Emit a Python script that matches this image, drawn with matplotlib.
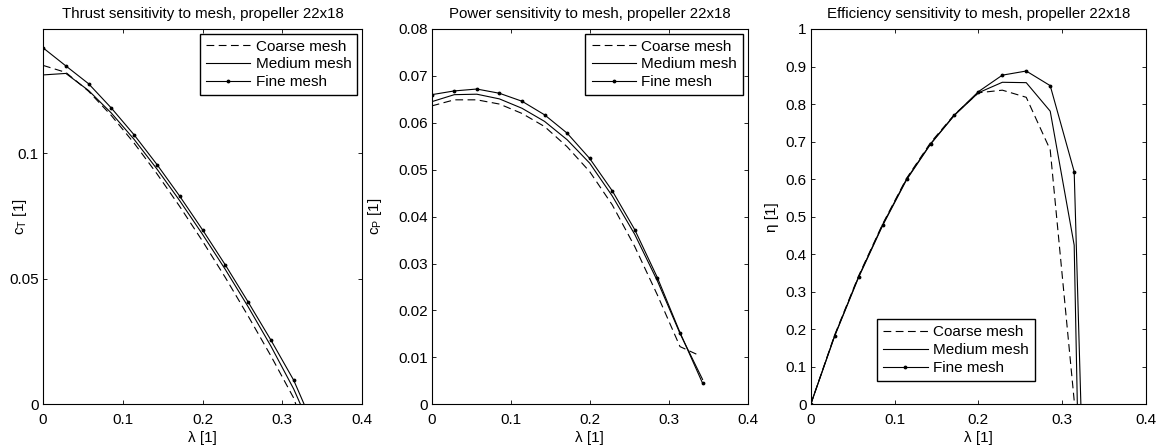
"""Mesh sensitivity of thrust, power and efficiency, propeller 22x18."""

import matplotlib

matplotlib.use("Agg")
import matplotlib.pyplot as plt
from matplotlib.ticker import FormatStrFormatter

plt.rcParams["font.family"] = ["Liberation Sans", "DejaVu Sans"]
plt.rcParams["mathtext.default"] = "regular"

# advance ratio grid (fine / medium share it, coarse ends a bit earlier)
lam = [0.0, 0.0286, 0.0571, 0.0857, 0.1143, 0.1429, 0.1714,
       0.2, 0.2286, 0.2571, 0.2857, 0.3143, 0.3429]
lam_coarse = [0.0, 0.0286, 0.0571, 0.0857, 0.1143, 0.1429, 0.1714,
              0.2, 0.2286, 0.2571, 0.2857, 0.3143, 0.335]

# thrust coefficient
ct_coarse = [0.1350, 0.1322, 0.1247, 0.1150, 0.1040, 0.0918, 0.0788,
             0.0650, 0.0505, 0.0352, 0.0193, 0.0025, -0.0170]
ct_medium = [0.1312, 0.1318, 0.1250, 0.1160, 0.1055, 0.0937, 0.0811,
             0.0677, 0.0537, 0.0389, 0.0232, 0.0061, -0.0145]
ct_fine = [0.1420, 0.1348, 0.1277, 0.1180, 0.1073, 0.0955, 0.0829,
           0.0695, 0.0555, 0.0408, 0.0256, 0.0096, -0.0113]

# power coefficient
cp_coarse = [0.0636, 0.0649, 0.0649, 0.0640, 0.0620, 0.0592, 0.0549,
             0.0496, 0.0425, 0.0336, 0.0233, 0.0123, 0.0107]
cp_medium = [0.0645, 0.0660, 0.0661, 0.0651, 0.0631, 0.0603, 0.0564,
             0.0514, 0.0444, 0.0362, 0.0263, 0.0151, 0.0053]
cp_fine = [0.0660, 0.0668, 0.0672, 0.0663, 0.0646, 0.0617, 0.0578,
           0.0524, 0.0455, 0.0372, 0.0270, 0.0153, 0.0045]

# efficiency
eta_coarse = [0.0, 0.185, 0.342, 0.480, 0.602, 0.697, 0.772,
              0.830, 0.837, 0.818, 0.678, 0.01, -0.5]
eta_medium = [0.0, 0.182, 0.338, 0.476, 0.598, 0.693, 0.770,
              0.830, 0.858, 0.857, 0.781, 0.424, -2.8]
eta_fine = [0.0, 0.183, 0.340, 0.478, 0.600, 0.694, 0.771,
            0.833, 0.877, 0.888, 0.849, 0.620, -1.6]

labels = ["Coarse mesh", "Medium mesh", "Fine mesh"]

FS = 11
LEG = dict(fontsize=FS, frameon=True, fancybox=False, edgecolor="k",
           framealpha=1, handlelength=2.9, handletextpad=0.35,
           labelspacing=0.25, borderpad=0.4)

fig = plt.figure(figsize=(11.63, 4.48), dpi=100)
ax1 = fig.add_axes([0.0370, 0.0975, 0.2743, 0.8378])
ax2 = fig.add_axes([0.3712, 0.0975, 0.2717, 0.8378])
ax3 = fig.add_axes([0.6971, 0.0975, 0.2883, 0.8378])


def draw(ax, coarse, medium, fine):
    ax.plot(lam_coarse, coarse, color="k", lw=0.8, dashes=(7, 4), label=labels[0])
    ax.plot(lam, medium, color="k", lw=0.8, label=labels[1])
    ax.plot(lam, fine, color="k", lw=0.8, marker=".", ms=3.5, label=labels[2])
    ax.set_xlim(0, 0.4)
    ax.set_xticks([0, 0.1, 0.2, 0.3, 0.4])
    ax.xaxis.set_major_formatter(FormatStrFormatter("%g"))
    ax.yaxis.set_major_formatter(FormatStrFormatter("%g"))
    ax.tick_params(direction="in", length=3, width=0.6, top=True, right=True,
                   labelsize=FS, pad=3)
    ax.tick_params(axis="x", pad=6)
    for s in ax.spines.values():
        s.set_linewidth(0.8)
    ax.set_xlabel("λ [1]", fontsize=FS, labelpad=3)


draw(ax1, ct_coarse, ct_medium, ct_fine)
ax1.set_ylim(0, 0.1495)
ax1.set_yticks([0, 0.05, 0.1])
ax1.set_ylabel("c$_T$ [1]", fontsize=FS)
ax1.yaxis.set_label_coords(-0.045, 0.5)
ax1.set_title("Thrust sensitivity to mesh, propeller 22x18", fontsize=10.8, pad=8)
ax1.legend(loc="upper right", borderaxespad=0.3, **LEG)

draw(ax2, cp_coarse, cp_medium, cp_fine)
ax2.set_ylim(0, 0.08)
ax2.set_yticks([0, 0.01, 0.02, 0.03, 0.04, 0.05, 0.06, 0.07, 0.08])
ax2.set_ylabel("c$_P$ [1]", fontsize=FS)
ax2.yaxis.set_label_coords(-0.15, 0.5)
ax2.set_title("Power sensitivity to mesh, propeller 22x18", fontsize=10.8, pad=8)
ax2.legend(loc="upper right", borderaxespad=0.3, **LEG)

draw(ax3, eta_coarse, eta_medium, eta_fine)
ax3.set_ylim(0, 1)
ax3.set_yticks([0, 0.1, 0.2, 0.3, 0.4, 0.5, 0.6, 0.7, 0.8, 0.9, 1])
ax3.set_ylabel("η [1]", fontsize=FS)
ax3.yaxis.set_label_coords(-0.095, 0.5)
ax3.set_title("Efficiency sensitivity to mesh, propeller 22x18", fontsize=10.8, pad=8)
ax3.legend(loc="lower left", bbox_to_anchor=(0.198, 0.062),
           borderaxespad=0, **LEG)

fig.savefig("out.png", dpi=100)
